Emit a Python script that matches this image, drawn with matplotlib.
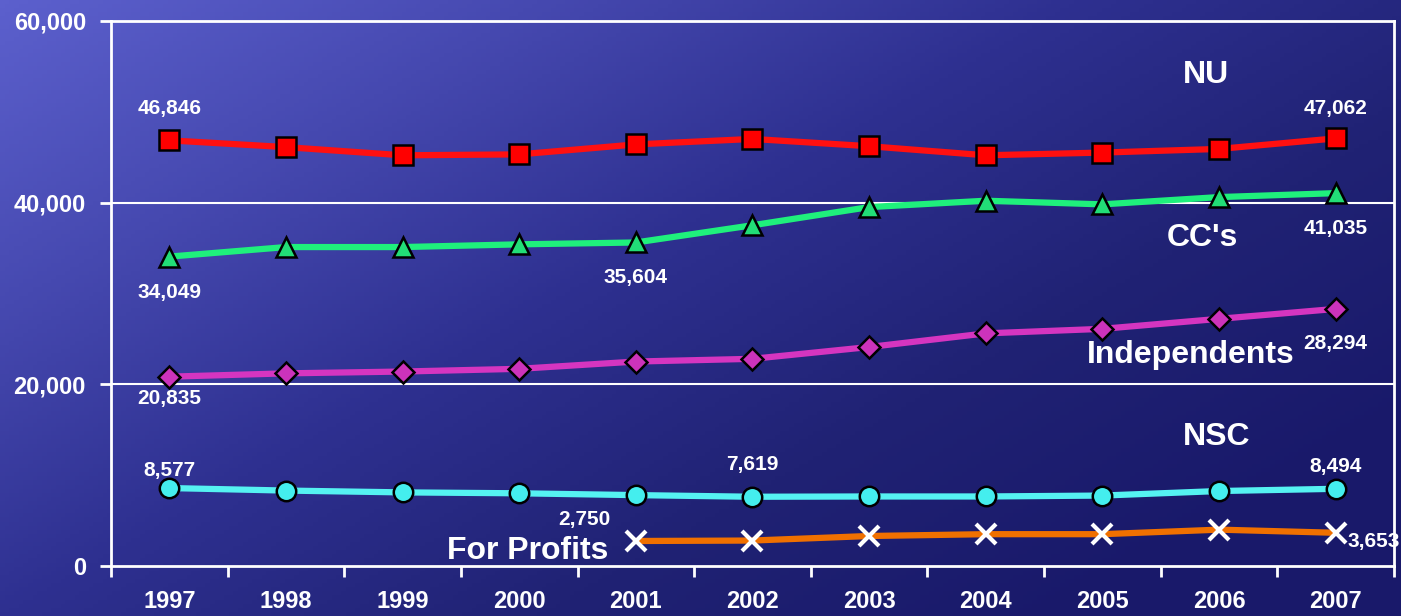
import numpy as np
import matplotlib
matplotlib.use("Agg")
import matplotlib.pyplot as plt
from matplotlib.colors import LinearSegmentedColormap

# --- Data ---
years = ["1997", "1998", "1999", "2000", "2001", "2002",
         "2003", "2004", "2005", "2006", "2007"]
nu = [46846, 46100, 45200, 45300, 46400, 47000, 46200, 45200, 45500, 45900, 47062]
ccs = [34049, 35100, 35100, 35400, 35604, 37500, 39500, 40200, 39800, 40600, 41035]
independents = [20835, 21200, 21400, 21700, 22500, 22800, 24100, 25600, 26100, 27200, 28294]
nsc = [8577, 8300, 8100, 8000, 7800, 7619, 7650, 7650, 7750, 8250, 8494]
for_profits = [np.nan, np.nan, np.nan, np.nan, 2750, 2800, 3300, 3500, 3500, 4000, 3653]
y_ticks = [0, 20000, 40000, 60000]

FONT = "Liberation Sans"
plt.rcParams['font.family'] = [FONT, 'DejaVu Sans']

fig = plt.figure(figsize=(14.01, 6.16), dpi=100)

# --- Gradient background ---
bg = fig.add_axes([0, 0, 1, 1], zorder=-10)
gx, gy = np.meshgrid(np.linspace(0, 1, 300), np.linspace(0, 1, 150))
t = np.clip(0.65 * gx + 0.5 * gy, 0, 1)
cmap = LinearSegmentedColormap.from_list(
    "bg", ["#5c60cd", "#4649b0", "#2e3090", "#202274", "#19196a"])
bg.imshow(t, cmap=cmap, aspect="auto", extent=[0, 1, 0, 1], origin="upper")
bg.axis("off")

ax = fig.add_axes([0.0792, 0.0812, 0.9158, 0.885])
ax.patch.set_alpha(0)
x = np.arange(len(years))

series = [
    (nu, "#ff1010", "s", "#ff0000", "black", 14),
    (ccs, "#1ff07c", "^", "#22dd77", "black", 15),
    (independents, "#d535c0", "D", "#cc33bb", "black", 11),
    (nsc, "#55f2f2", "o", "#44eeee", "black", 14),
]
for vals, lc, mk, fc, ec, ms in series:
    ax.plot(x, vals, color=lc, lw=4.5, marker=mk, markersize=ms,
            markerfacecolor=fc, markeredgecolor=ec, markeredgewidth=1.8,
            solid_capstyle="butt", zorder=3)
ax.plot(x, for_profits, color="#f07000", lw=4.5, zorder=3)
ax.plot(x, for_profits, ls="none", marker="x", markersize=15,
        markeredgewidth=3, color="white", zorder=4)

ax.set_xlim(-0.5, len(years) - 0.5)
ax.set_ylim(0, 60000)
ax.set_yticks(y_ticks)
ax.set_yticklabels([f"{v:,}" for v in y_ticks])
ax.set_xticks(x)
ax.set_xticklabels(years)
ax.set_xticks(np.arange(-0.5, len(years)), minor=True)
ax.tick_params(axis="x", which="major", length=0, pad=17)
ax.tick_params(axis="x", which="minor", length=8, width=2, color="white",
               direction="out")
ax.tick_params(axis="y", length=8, width=2, color="white", pad=10)
for lab in ax.get_xticklabels():
    lab.set_fontsize(17)
for lab in ax.get_yticklabels():
    lab.set_fontsize(17)
for lab in ax.get_xticklabels() + ax.get_yticklabels():
    lab.set_color("white")
    lab.set_fontweight("bold")
    lab.set_fontfamily(FONT)

for sp in ax.spines.values():
    sp.set_color("white")
    sp.set_linewidth(2)
for yv in y_ticks[1:-1]:
    ax.axhline(yv, color="white", lw=1.5, zorder=1)

# --- Value labels ---
def label(i, vals, dx, dy, ha="center"):
    ax.annotate(f"{vals[i]:,}", xy=(i, vals[i]), xytext=(dx, dy),
                textcoords="offset pixels", ha=ha, va="center",
                color="white", fontsize=15, fontweight="bold", zorder=5)

label(0, nu, 0, 32)
label(10, nu, 0, 30)
label(0, ccs, 0, -36)
label(4, ccs, 0, -35)
label(10, ccs, 0, -35)
label(0, independents, 0, -22)
label(10, independents, 0, -35)
label(0, nsc, 0, 18)
label(5, nsc, 0, 32)
label(10, nsc, 0, 22)
label(4, for_profits, -51, 21)
label(10, for_profits, 12, -9, ha="left")

# --- Series names ---
name_kw = dict(color="white", fontsize=23, fontweight="bold",
               ha="center", va="center", zorder=5)
ax.text(8.885, 54050, "NU", **name_kw)
ax.text(8.86, 36100, "CC's", **name_kw)
ax.text(8.76, 23200, "Independents", **name_kw)
ax.text(8.98, 14200, "NSC", **name_kw)
ax.text(3.07, 1650, "For Profits", **name_kw)

fig.savefig("out.png", dpi=100)
